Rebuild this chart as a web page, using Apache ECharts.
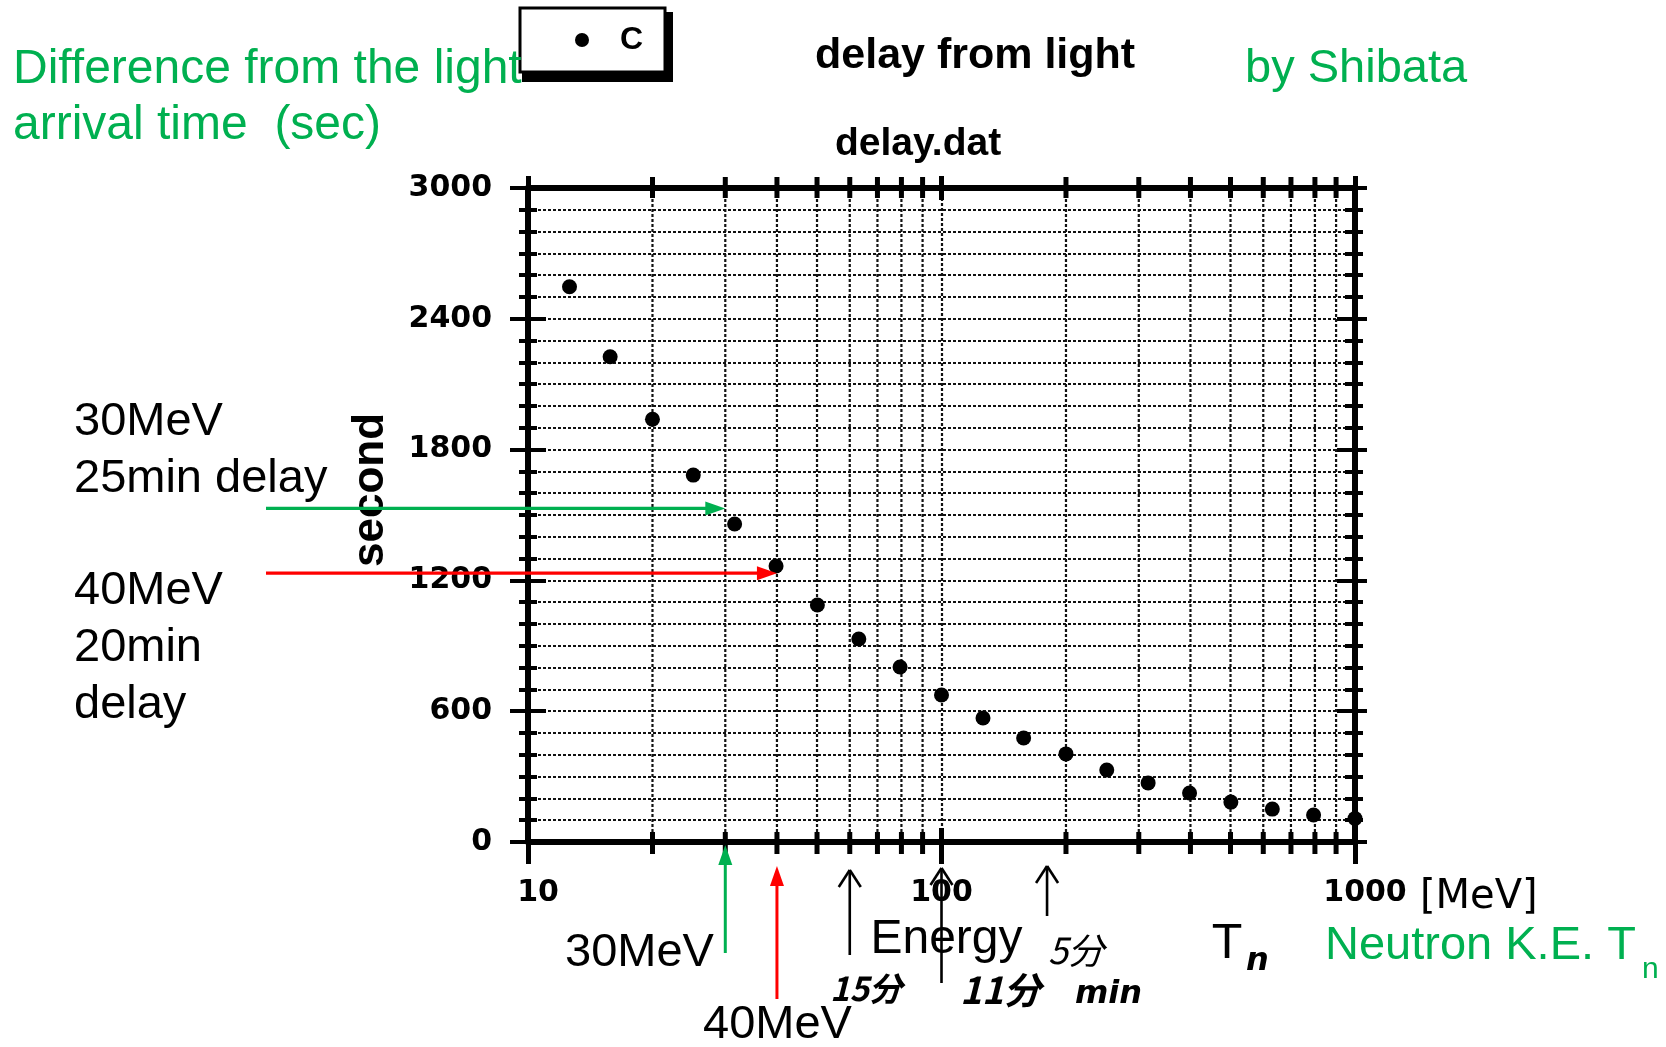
<!DOCTYPE html>
<html><head><meta charset="utf-8">
<script src="https://cdn.jsdelivr.net/npm/echarts@6/dist/echarts.min.js"></script>
<style>html,body{margin:0;padding:0;background:#fff}#c{width:1666px;height:1047px}</style>
</head><body><div id="c"></div>
<script>
// ---- data ----
const energyMeV = [12.6, 15.8, 20, 25.1, 31.6, 39.8, 50.1, 63.1, 79.4, 100, 126, 158, 200, 251, 316, 398, 501, 631, 794, 1000];
const delaySec  = [2547, 2226, 1939, 1683, 1459, 1266, 1087, 931, 803, 674, 569, 477, 404, 330, 271, 225, 183, 151, 124, 108];
const xMinorTickValues = [20, 30, 40, 50, 60, 70, 80, 90, 200, 300, 400, 500, 600, 700, 800, 900];
const xTickLabels = [10, 100, 1000];
const yTickLabels = [0, 600, 1200, 1800, 2400, 3000];
const pointerEnergies = [30, 40];          // MeV, green and red pointers
const pointerDelays = [1530, 1233];        // seconds, where the horizontal pointers end
const minuteArrowEnergies = [60, 100, 180]; // handwritten arrows under the axis

const GREEN = '#00B050', RED = '#FF0000';
const SANS = "'Liberation Sans', Arial, sans-serif";
const axisFont = {fontFamily: 'DejaVu Sans', fontWeight: 'bold', fontSize: 30, color: '#000'};
const gridStyle = {color: '#111', width: 2.2, type: [3, 2]};

const chart = echarts.init(document.getElementById('c'), null, {renderer: 'canvas'});

function logX(extra) {
  return Object.assign({type: 'log', logBase: 10, min: 10, max: 1000, splitLine: {show: false}, axisLabel: {show: false}, axisLine: {show: false, onZero: false}}, extra);
}
function linY(extra) {
  return Object.assign({type: 'value', min: 0, max: 3000, interval: 600, splitLine: {show: false}, axisLabel: {show: false}, axisLine: {show: false, onZero: false}}, extra);
}

const option = {
  animation: false,
  backgroundColor: '#fff',
  title: [
    {text: 'delay from light', left: 815, top: 35, padding: 0,
     textStyle: {fontFamily: SANS, fontWeight: 'bold', fontSize: 43, color: '#000'}},
    {text: 'delay.dat', left: 835, top: 125, padding: 0,
     textStyle: {fontFamily: SANS, fontWeight: 'bold', fontSize: 39, color: '#000'}}
  ],
  legend: {
    data: [{name: 'C', icon: 'circle'}], left: 520, top: 8, padding: [16, 22, 16, 55],
    itemWidth: 14, itemHeight: 14, selectedMode: false, z: 10,
    backgroundColor: 'transparent', borderWidth: 0,
    textStyle: {fontFamily: SANS, fontWeight: 'bold', fontSize: 32, color: '#000', padding: [0, 0, 0, 26]}
  },
  grid: {left: 528, right: 311, top: 188, bottom: 205, containLabel: false, outerBoundsMode: 'none'},
  xAxis: [
    logX({position: 'bottom',
      axisLine: {show: true, onZero: false, lineStyle: {color: '#000', width: 6}},
      axisTick: {show: true, inside: false, length: 22, lineStyle: {color: '#000', width: 5}},
      axisLabel: Object.assign({show: true, margin: 36, formatter: v => {
        const r = Math.round(v);
        if (!xTickLabels.includes(r)) return '';
        if (r === 10) return '{s|' + r + '}';
        if (r === 1000) return '{s|' + r + '}';
        return String(r);
      }, rich: {s: Object.assign({padding: [0, 0, 0, 20]}, axisFont)}}, axisFont),
      splitLine: {show: true, lineStyle: gridStyle},
      name: 'Energy', nameLocation: 'middle', nameGap: 74,
      nameTextStyle: {fontFamily: SANS, fontSize: 48, color: '#000', padding: [0, 0, 0, 10]}
    }),
    logX({position: 'bottom', axisTick: {show: true, inside: true, length: 14, lineStyle: {color: '#000', width: 5}}}),
    logX({position: 'top',
      axisLine: {show: true, onZero: false, lineStyle: {color: '#000', width: 6}},
      axisTick: {show: true, inside: false, length: 12, lineStyle: {color: '#000', width: 5}}}),
    logX({position: 'top', axisTick: {show: true, inside: true, length: 12, lineStyle: {color: '#000', width: 5}}})
  ],
  yAxis: [
    linY({position: 'left',
      axisLine: {show: true, onZero: false, lineStyle: {color: '#000', width: 6}},
      axisTick: {show: true, inside: false, length: 18, lineStyle: {color: '#000', width: 4}},
      minorTick: {show: true, splitNumber: 6, length: 9, lineStyle: {color: '#000', width: 4}},
      axisLabel: Object.assign({show: true, margin: 36, formatter: v => yTickLabels.includes(v) ? String(v) : ''}, axisFont),
      splitLine: {show: true, lineStyle: gridStyle},
      minorSplitLine: {show: true, lineStyle: gridStyle},
      name: 'second', nameLocation: 'middle', nameRotate: 90, nameGap: 135,
      nameTextStyle: {fontFamily: SANS, fontWeight: 'bold', fontSize: 44, color: '#000', padding: [0, 0, 0, 50]}
    }),
    linY({position: 'left',
      axisTick: {show: true, inside: true, length: 18, lineStyle: {color: '#000', width: 4}},
      minorTick: {show: true, splitNumber: 6, length: 9, lineStyle: {color: '#000', width: 4}}}),
    linY({position: 'right',
      axisLine: {show: true, onZero: false, lineStyle: {color: '#000', width: 6}},
      axisTick: {show: true, inside: false, length: 12, lineStyle: {color: '#000', width: 4}},
      minorTick: {show: true, splitNumber: 6, length: 8, lineStyle: {color: '#000', width: 4}}}),
    linY({position: 'right',
      axisTick: {show: true, inside: true, length: 18, lineStyle: {color: '#000', width: 4}},
      minorTick: {show: true, splitNumber: 6, length: 10, lineStyle: {color: '#000', width: 4}}})
  ],
  series: [
    {
      type: 'custom', name: 'grid', coordinateSystem: 'cartesian2d', xAxisIndex: 0, yAxisIndex: 0,
      z: 1, silent: true, clip: false,
      data: xMinorTickValues.map(v => [v, 0]),
      encode: {x: 0, y: 1},
      renderItem: (params, api) => {
        const v = api.value(0);
        const b = api.coord([v, 0]);
        const t = api.coord([v, 3000]);
        return {type: 'group', children: [
          {type: 'line', shape: {x1: b[0], y1: b[1], x2: t[0], y2: t[1]},
           style: {stroke: '#111', lineWidth: 2.2, lineDash: [3, 2]}},
          {type: 'line', shape: {x1: b[0], y1: b[1] - 10, x2: b[0], y2: b[1] + 12},
           style: {stroke: '#000', lineWidth: 5}},
          {type: 'line', shape: {x1: t[0], y1: t[1] - 11, x2: t[0], y2: t[1] + 10},
           style: {stroke: '#000', lineWidth: 5}}
        ]};
      }
    },
    {
      type: 'scatter', name: 'C', xAxisIndex: 0, yAxisIndex: 0, z: 5,
      data: energyMeV.map((e, i) => [e, delaySec[i]]),
      symbol: 'circle', symbolSize: 15,
      itemStyle: {color: '#000', opacity: 1}
    }
  ]
};
chart.setOption(option);

// ---- annotations (positions of pointers come from the chart's own scales) ----
function px(e, d) { return chart.convertToPixel({xAxisIndex: 0, yAxisIndex: 0}, [e, d]); }
function txt(text, x, y, size, color, o) {
  o = o || {};
  const font = (o.italic ? 'italic ' : '') + (o.bold ? 'bold ' : '') + size + 'px ' + (o.family || SANS);
  return {type: 'text', x: x, y: y, silent: true, z: 50,
    style: {text: text, fill: color, font: font, align: o.align || 'left', verticalAlign: 'middle',
            textAlign: o.align || 'left', textVerticalAlign: 'middle'}};
}
function line(x1, y1, x2, y2, color, w) {
  return {type: 'line', silent: true, z: 50, shape: {x1, y1, x2, y2}, style: {stroke: color, lineWidth: w}};
}
function poly(points, color) {
  return {type: 'polygon', silent: true, z: 50, shape: {points}, style: {fill: color}};
}

const g = [];
// legend frame with heavy drop shadow
g.push({type: 'rect', silent: true, z: 0, shape: {x: 522, y: 12, width: 151, height: 70}, style: {fill: '#000'}});
g.push({type: 'rect', silent: true, z: 1, shape: {x: 520, y: 8, width: 145, height: 64}, style: {fill: '#fff', stroke: '#000', lineWidth: 3}});

const pColors = [GREEN, RED];
// horizontal pointers
pointerEnergies.forEach((e, i) => {
  const tip = px(e, pointerDelays[i]);
  g.push(line(266, tip[1], tip[0] - 14, tip[1], pColors[i], 3.2));
  g.push(poly([[tip[0], tip[1]], [tip[0] - 20, tip[1] - 7], [tip[0] - 20, tip[1] + 7]], pColors[i]));
});
// vertical pointers below axis
const vTips = [845, 866], vBottoms = [953, 999];
pointerEnergies.forEach((e, i) => {
  const x = px(e, 0)[0];
  g.push(line(x, vBottoms[i], x, vTips[i] + 14, pColors[i], 3));
  g.push(poly([[x, vTips[i]], [x - 7, vTips[i] + 20], [x + 7, vTips[i] + 20]], pColors[i]));
});
// handwritten arrows
const mTips = [870, 868, 866], mBottoms = [955, 983, 916];
minuteArrowEnergies.forEach((e, i) => {
  const x = px(e, 0)[0];
  g.push(line(x, mBottoms[i], x, mTips[i], '#000', 2.6));
  g.push(line(x, mTips[i], x - 11, mTips[i] + 17, '#000', 2.6));
  g.push(line(x, mTips[i], x + 11, mTips[i] + 17, '#000', 2.6));
});

// texts
g.push(txt('Difference from the light', 13, 70, 48, GREEN));
g.push(txt('arrival time  (sec)', 13, 126, 48, GREEN));
g.push(txt('by Shibata', 1245, 69, 47, GREEN));
g.push(txt('Neutron K.E. T', 1325, 946, 47, GREEN));
g.push(txt('n', 1642, 970, 30, GREEN));

g.push(txt('30MeV', 74, 422, 47, '#000'));
g.push(txt('25min delay', 74, 479, 47, '#000'));
g.push(txt('40MeV', 74, 591, 47, '#000'));
g.push(txt('20min', 74, 648, 47, '#000'));
g.push(txt('delay', 74, 705, 47, '#000'));
g.push(txt('30MeV', 565, 953, 47, '#000'));
g.push(txt('40MeV', 703, 1025, 47, '#000'));

const HAND = "'DejaVu Sans', sans-serif";
const CJK = "'Noto Sans CJK JP', sans-serif";
g.push(txt('15分', 830, 988, 33, '#000', {italic: true, bold: true, family: CJK}));
g.push(txt('11分', 960, 990, 37, '#000', {italic: true, bold: true, family: CJK}));
g.push(txt('5分', 1048, 950, 36, '#000', {italic: true, family: CJK}));
g.push(txt('min', 1075, 995, 32, '#000', {italic: true, bold: true, family: HAND}));
g.push(txt('[MeV]', 1420, 898, 40, '#000', {family: HAND}));
g.push(txt('T', 1213, 946, 46, '#000', {family: HAND}));
g.push(txt('n', 1246, 962, 32, '#000', {italic: true, bold: true, family: HAND}));

chart.setOption({graphic: {elements: g}});
</script>
</body></html>
